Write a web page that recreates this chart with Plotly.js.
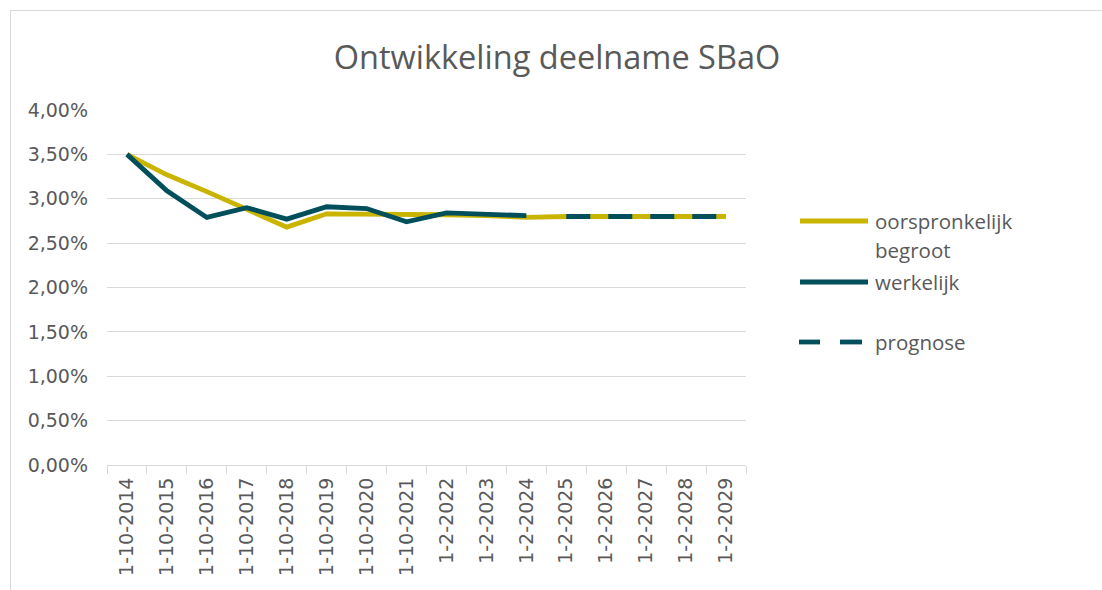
<!DOCTYPE html>
<html><head><meta charset="utf-8">
<script src="https://cdn.plot.ly/plotly-3.0.1.min.js"></script>
<style>
html,body{margin:0;padding:0;background:#fff;}
#frame{position:absolute;left:10px;top:10px;width:1092px;height:580px;border-top:1px solid #d9d9d9;border-left:1px solid #d9d9d9;}
#chart{width:1092px;height:580px;}
</style></head>
<body><div id="frame"><div id="chart"></div></div>
<script>
const categories = ['1-10-2014','1-10-2015','1-10-2016','1-10-2017','1-10-2018','1-10-2019','1-10-2020','1-10-2021','1-2-2022','1-2-2023','1-2-2024','1-2-2025','1-2-2026','1-2-2027','1-2-2028','1-2-2029'];
const begroot   = [0.0350,0.0327,0.0308,0.0288,0.0268,0.0283,0.0283,0.0283,0.0282,0.0281,0.0279,0.0280,0.0280,0.0280,0.0280,0.0280];
const werkelijk = [0.0350,0.0309,0.0279,0.0290,0.0277,0.0291,0.0289,0.0274,0.0284,0.0282,0.0281,null,null,null,null,null];
const prognose  = [null,null,null,null,null,null,null,null,null,null,null,0.0280,0.0280,0.0280,0.0280,0.0280];
const legendNames = ['oorspronkelijk', 'begroot', 'werkelijk', 'prognose'];

const YELLOW = '#C9B400', TEAL = '#004F5B', TXT = '#595959', GRID = '#d9d9d9';
const FONT = '"Open Sans", sans-serif';
const TICKFONT = '"DejaVu Sans", sans-serif';

const traces = [
  {x: categories, y: begroot, type: 'scatter', mode: 'lines', line: {color: YELLOW, width: 4.8}, showlegend: false},
  {x: categories, y: werkelijk, type: 'scatter', mode: 'lines', line: {color: TEAL, width: 4.8}, showlegend: false, connectgaps: false},
  {x: categories, y: prognose, type: 'scatter', mode: 'lines', line: {color: TEAL, width: 4.8, dash: '24px,18px'}, showlegend: false}
];

function px(xp){ return (xp - 107) / 639; }
function py(yp){ return (465 - yp) / 355; }

const shapes = [
  {type:'line', xref:'paper', yref:'paper', x0:px(800), x1:px(868), y0:py(221), y1:py(221), line:{color:YELLOW, width:4.8}},
  {type:'line', xref:'paper', yref:'paper', x0:px(800), x1:px(868), y0:py(282), y1:py(282), line:{color:TEAL, width:4.8}},
  {type:'line', xref:'paper', yref:'paper', x0:px(799), x1:px(820), y0:py(342), y1:py(342), line:{color:TEAL, width:4.8}},
  {type:'line', xref:'paper', yref:'paper', x0:px(840), x1:px(862), y0:py(342), y1:py(342), line:{color:TEAL, width:4.8}}
];
const legY = [221, 250, 282, 342];
const annotations = legendNames.map((t,i)=>({
  text: t, xref:'paper', yref:'paper', x: px(873), y: py(legY[i]), xanchor:'left', yanchor:'middle',
  showarrow:false, font:{family:FONT, size:20.5, color:TXT}
}));

const layout = {
  width: 1092, height: 580,
  margin: {l: 96, r: 357, t: 99, b: 126},
  paper_bgcolor: '#fff', plot_bgcolor: '#fff',
  separators: ',.',
  font: {family: FONT, color: TXT, size: 17},
  title: {text: 'Ontwikkeling deelname SBaO', x: 0.5, xanchor: 'center', y: 1 - 47/580, yanchor: 'middle',
          font: {family: FONT, size: 32.5, color: TXT}},
  xaxis: {type: 'category', range: [-0.5, 15.5], tickson: 'boundaries', ticks: 'outside', ticklen: 8, tickcolor: GRID,
          showline: true, linecolor: GRID, linewidth: 1, showgrid: false, tickangle: -90, ticklabelstandoff: 4,
          tickfont: {family: TICKFONT, size: 19, color: TXT}, fixedrange: true},
  yaxis: {range: [0, 0.04], dtick: 0.005, tickformat: '.2%', showgrid: true, gridcolor: GRID, gridwidth: 1,
          zeroline: false, showline: false, ticks: '', ticklabelstandoff: 18,
          tickfont: {family: TICKFONT, size: 19, color: TXT}, fixedrange: true},
  shapes: shapes, annotations: annotations, showlegend: false
};
Plotly.newPlot('chart', traces, layout, {displayModeBar: false, staticPlot: true});
</script></body></html>
